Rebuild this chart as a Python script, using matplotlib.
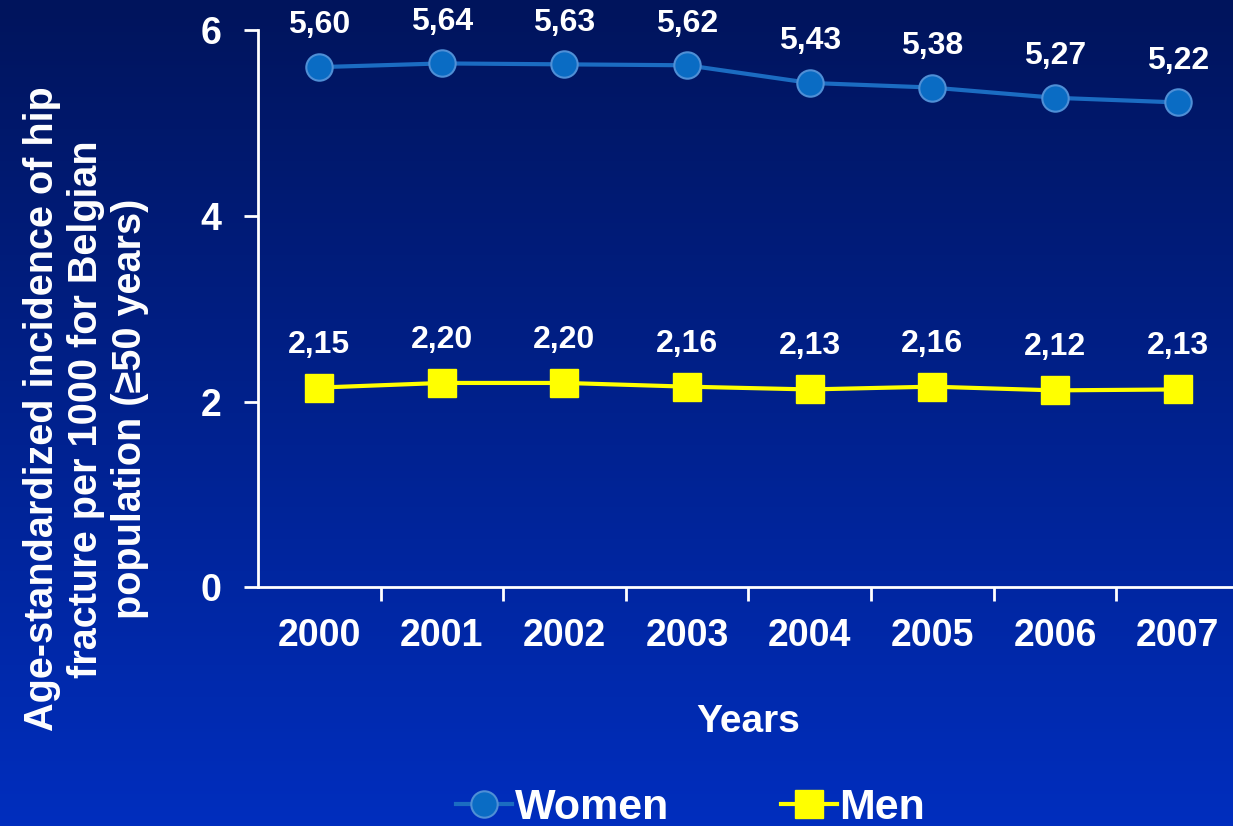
import numpy as np
import matplotlib.pyplot as plt

years = ['2000', '2001', '2002', '2003', '2004', '2005', '2006', '2007']
women = [5.60, 5.64, 5.63, 5.62, 5.43, 5.38, 5.27, 5.22]
men = [2.15, 2.20, 2.20, 2.16, 2.13, 2.16, 2.12, 2.13]
yticks = [0, 2, 4, 6]

plt.rcParams['font.family'] = ['Liberation Sans', 'DejaVu Sans']
plt.rcParams['font.weight'] = 'bold'

fig = plt.figure(figsize=(12.33, 8.26), dpi=100)

# gradient background
bg = fig.add_axes([0, 0, 1, 1], zorder=-10)
top = np.array([0, 20, 92]) / 255
bot = np.array([0, 46, 190]) / 255
t = np.linspace(0, 1, 256)[:, None]
grad = top[None, :] * (1 - t) + bot[None, :] * t
bg.imshow(grad[:, None, :], aspect='auto', extent=[0, 1, 0, 1])
bg.set_axis_off()

ax = fig.add_axes([0.2092, 0.289, 0.7956, 0.6747])
ax.patch.set_alpha(0)
x = np.arange(len(years))

ax.plot(x, women, color='#1b6cc2', lw=3, marker='o', ms=19,
        mfc='#0a6cc4', mec='#4f8fd6', mew=1.5, label='Women', zorder=3)
ax.plot(x, men, color='#ffff00', lw=3, marker='s', ms=20,
        mfc='#ffff00', mec='#ffff00', label='Men', zorder=3)

for i in range(len(years)):
    ax.annotate(f'{women[i]:.2f}'.replace('.', ','), (x[i], women[i]), xytext=(0, 30),
                textcoords='offset points', ha='center', va='center',
                color='white', fontsize=23, fontweight='bold')
    ax.annotate(f'{men[i]:.2f}'.replace('.', ','), (x[i], men[i]), xytext=(0, 31),
                textcoords='offset points', ha='center', va='center',
                color='white', fontsize=23, fontweight='bold')

ax.set_xlim(-0.5, len(years) - 0.5)
ax.set_ylim(0, 6)
ax.set_yticks(yticks)
ax.set_yticklabels([str(v) for v in yticks])
ax.set_xticks(x)
ax.set_xticklabels(years)
ax.set_xticks(np.arange(0.5, len(years) - 0.5, 1), minor=True)
ax.tick_params(axis='x', which='major', length=0, pad=22, labelsize=27, colors='white')
ax.tick_params(axis='x', which='minor', length=10, width=2, colors='white', direction='out')
ax.tick_params(axis='y', length=10, width=2, colors='white', labelsize=27, pad=16)
for s in ['top', 'right']:
    ax.spines[s].set_visible(False)
for s in ['left', 'bottom']:
    ax.spines[s].set_color('white')
    ax.spines[s].set_linewidth(2)

ax.set_xlabel('Years', color='white', fontsize=28, fontweight='bold', labelpad=36)
fig.text(86 / 1233, 1 - 409 / 826,
         'Age-standardized incidence of hip\nfracture per 1000 for Belgian\npopulation (\u226550 years)',
         rotation=90, ha='center', va='center', multialignment='center',
         color='white', fontsize=28.5, fontweight='bold', linespacing=1.2)

leg = fig.legend(loc='center', bbox_to_anchor=(0.56, 0.022), ncol=2, frameon=False,
                 fontsize=31, handlelength=1.3, handletextpad=0.05, columnspacing=2.6,
                 markerscale=1.0)
for txt in leg.get_texts():
    txt.set_color('white')

fig.savefig('out.png', dpi=100)
